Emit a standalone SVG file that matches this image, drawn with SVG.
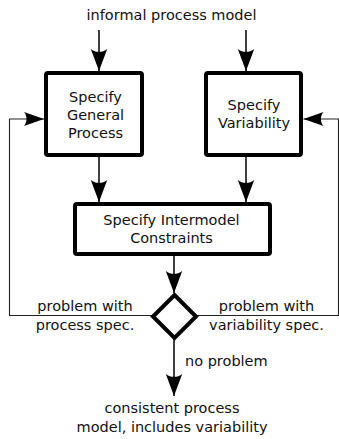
<svg xmlns="http://www.w3.org/2000/svg" width="339" height="439" viewBox="0 0 339 439">
  <defs>
    <style>
      text { font-family: "DejaVu Sans", "Liberation Sans", sans-serif; font-size: 14.5px; fill: #111; }
      .c { text-anchor: middle; }
      .box { fill: #fff; stroke: #000; stroke-width: 4; }
      .flow { fill: none; stroke: #000; stroke-width: 1.5; }
      .loop { fill: none; stroke: #222; stroke-width: 1.1; }
    </style>
    <marker id="head" markerUnits="userSpaceOnUse" markerWidth="30" markerHeight="30" refX="0" refY="0" orient="auto" overflow="visible">
      <path d="M0 0 L-22 -8.2 C-18.2 -3.6 -18.2 3.6 -22 8.2 Z" fill="#000"/>
    </marker>
    <marker id="head-small" markerUnits="userSpaceOnUse" markerWidth="30" markerHeight="30" refX="0" refY="0" orient="auto" overflow="visible">
      <path d="M0 0 L-20 -7 C-16.6 -3.1 -16.6 3.1 -20 7 Z" fill="#000"/>
    </marker>
  </defs>

  <text class="c" x="171.5" y="19.5">informal process model</text>

  <g id="connectors">
    <path class="flow" d="M99 30 V71" marker-end="url(#head)"/>
    <path class="flow" d="M246 30 V71" marker-end="url(#head)"/>
    <path class="flow" d="M99 157 V202" marker-end="url(#head)"/>
    <path class="flow" d="M246 157 V202" marker-end="url(#head)"/>
    <path class="flow" d="M174 256 V293" marker-end="url(#head)"/>
    <path class="flow" d="M174 339 V396" marker-end="url(#head)"/>
    <path class="loop" d="M152 315.5 H9.5 V119 H44" marker-end="url(#head-small)"/>
    <path class="loop" d="M197 315.5 H338.5 V119 H303.5" marker-end="url(#head-small)"/>
  </g>

  <g id="specify-general-process">
    <rect class="box" x="46" y="73" width="96" height="82" rx="2"/>
    <text class="c" x="95.5" y="101.5">Specify</text>
    <text class="c" x="95.5" y="119.5">General</text>
    <text class="c" x="95.5" y="137.5">Process</text>
  </g>

  <g id="specify-variability">
    <rect class="box" x="206" y="73" width="95" height="82" rx="2"/>
    <text class="c" x="254" y="110">Specify</text>
    <text class="c" x="254" y="128">Variability</text>
  </g>

  <g id="specify-intermodel-constraints">
    <rect class="box" x="75" y="204" width="195" height="50" rx="2"/>
    <text class="c" x="171.5" y="224.5">Specify Intermodel</text>
    <text class="c" x="171.5" y="243">Constraints</text>
  </g>

  <g id="decision">
    <path class="box" d="M174.5 295 L196 316.5 L174.5 338 L153 316.5 Z" stroke-linejoin="miter"/>
  </g>

  <g id="labels">
    <text class="c" x="85" y="311">problem with</text>
    <text class="c" x="85" y="330">process spec.</text>
    <text class="c" x="266.5" y="311">problem with</text>
    <text class="c" x="266.5" y="330">variability spec.</text>
    <text x="185" y="365.5">no problem</text>
    <text class="c" x="172" y="413">consistent process</text>
    <text class="c" x="172" y="431.5">model, includes variability</text>
  </g>
</svg>
